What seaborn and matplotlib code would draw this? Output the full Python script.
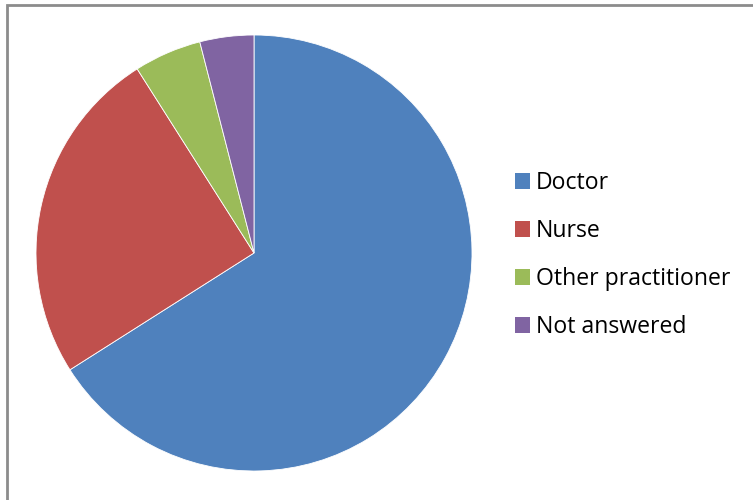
import matplotlib
matplotlib.use("Agg")
import matplotlib.pyplot as plt
from matplotlib.patches import Patch, Rectangle
import seaborn as sns

# Survey responses by respondent role
roles = ["Doctor", "Nurse", "Other practitioner", "Not answered"]
shares = [66, 25, 5, 4]
colors = ["#4F81BD", "#C0504D", "#9BBB59", "#8064A2"]

sns.set_theme(style="white")
plt.rcParams["font.family"] = ["Open Sans", "DejaVu Sans"]
plt.rcParams["text.color"] = "black"
palette = sns.color_palette(colors)

W, H = 753, 500
fig = plt.figure(figsize=(W / 100, H / 100), dpi=100)
fig.patch.set_facecolor("white")

# Chart frame (top and left edges visible, extends past the canvas)
fig.patches.append(Rectangle((7 / W, -0.1), 1.2, (H - 4.5) / H + 0.1,
                             transform=fig.transFigure, fill=False,
                             edgecolor="#8c8c8c", linewidth=2))

cx, cy, r = 254, 253, 218
ax = fig.add_axes([(cx - r) / W, (H - cy - r) / H, 2 * r / W, 2 * r / H])
wedges, _ = ax.pie(shares, colors=palette, startangle=90, counterclock=False,
                   radius=1.0, wedgeprops=dict(edgecolor="white", linewidth=0.6))
ax.set_xlim(-1, 1)
ax.set_ylim(-1, 1)
ax.set_aspect("equal")
ax.axis("off")

fs = 16.6
fs_px = fs * 100 / 72
handles = [Patch(facecolor=c, edgecolor="none") for c in palette]
leg = fig.legend(handles, roles, loc="center left",
                 bbox_to_anchor=(515 / W, (H - 255) / H),
                 frameon=False, fontsize=fs, borderpad=0, borderaxespad=0,
                 handlelength=15 / fs_px, handleheight=15 / fs_px,
                 handletextpad=6 / fs_px, labelspacing=1.04)
for t in leg.get_texts():
    t.set_color("black")

fig.savefig("out.png", dpi=100, facecolor="white")
